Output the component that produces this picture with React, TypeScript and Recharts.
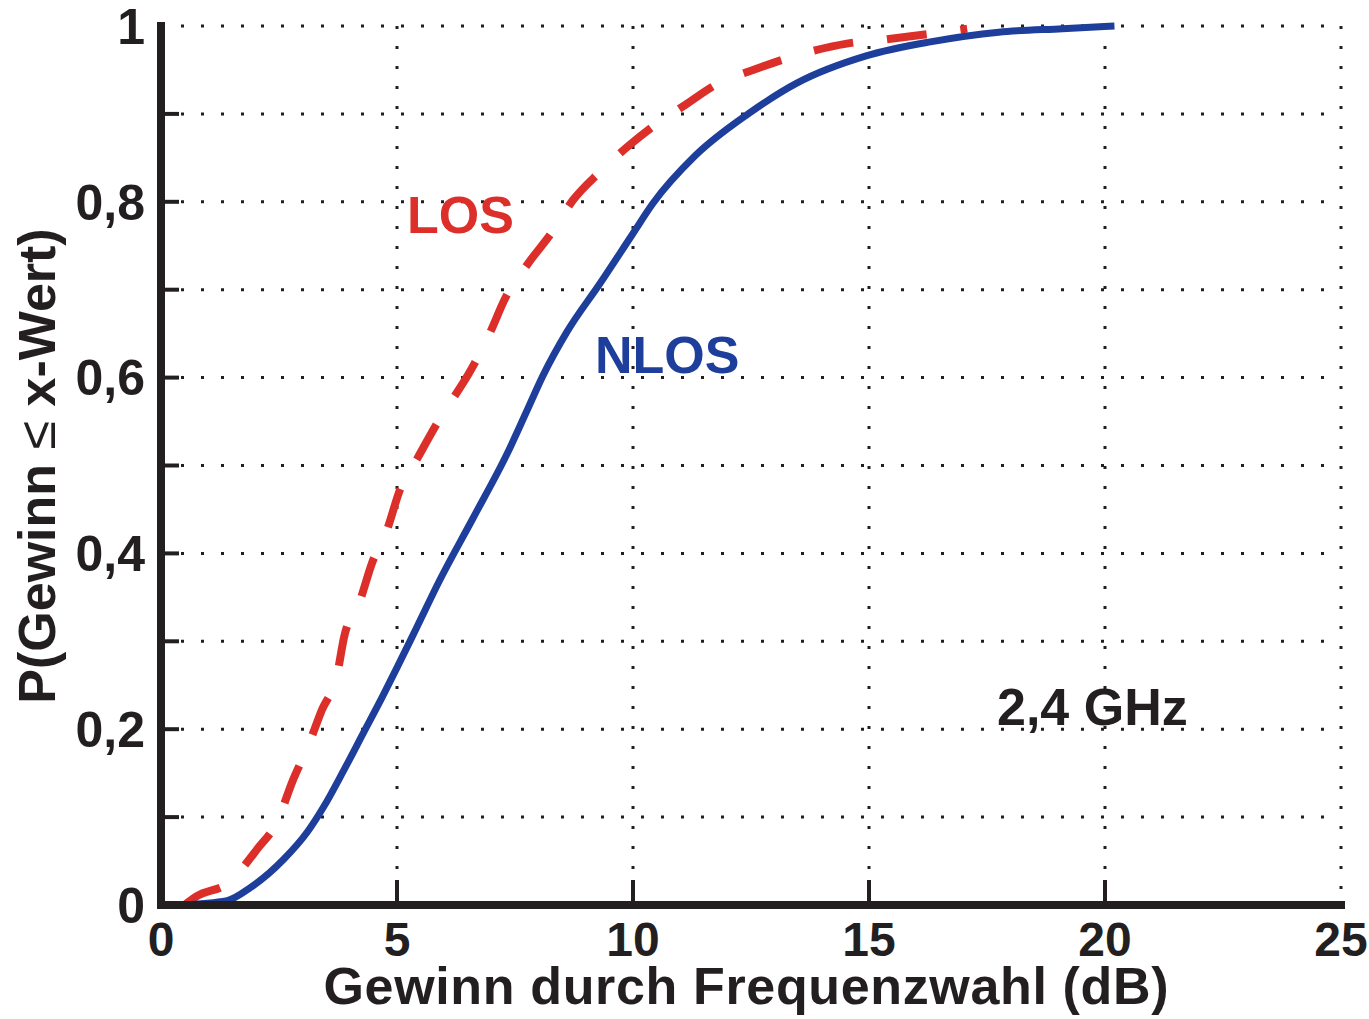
import { LineChart, Line, XAxis, YAxis, CartesianGrid } from 'recharts'

// NLOS — Gewinn (dB) und kumulierte Wahrscheinlichkeit
const nlosGain = [0.4, 1.4, 1.9, 2.6, 3.1, 3.45, 3.86, 4.28, 4.7, 5.0, 5.42, 5.91, 6.61, 7.33, 7.75, 8.09, 8.6, 9.3, 10.0, 10.42, 11.31, 12.44, 13.47, 14.94, 16.3, 17.75, 19.1, 20.2]
const nlosProb = [0, 0.005, 0.02, 0.052, 0.083, 0.112, 0.152, 0.195, 0.238, 0.27, 0.316, 0.37, 0.44, 0.513, 0.562, 0.602, 0.652, 0.707, 0.764, 0.798, 0.852, 0.9, 0.935, 0.966, 0.982, 0.993, 0.997, 1.0]

// LOS
const losGain = [0.5, 0.76, 1.42, 2.03, 2.48, 2.78, 3.11, 3.41, 3.73, 3.88, 4.22, 4.47, 4.79, 5.06, 5.44, 5.87, 6.59, 6.97, 7.29, 7.78, 8.28, 8.73, 9.3, 9.87, 10.38, 11.1, 11.78, 12.6, 13.69, 14.53, 15.38, 16.27, 17.08]
const losProb = [0, 0.01, 0.025, 0.063, 0.097, 0.14, 0.18, 0.222, 0.262, 0.305, 0.347, 0.389, 0.427, 0.472, 0.509, 0.55, 0.611, 0.651, 0.69, 0.73, 0.765, 0.802, 0.834, 0.862, 0.884, 0.91, 0.934, 0.951, 0.97, 0.98, 0.985, 0.991, 0.997]

const xTicks = [0, 5, 10, 15, 20, 25]
const yTicks = [0, 0.1, 0.2, 0.3, 0.4, 0.5, 0.6, 0.7, 0.8, 0.9, 1]
const yLabels = ['0', '', '0,2', '', '0,4', '', '0,6', '', '0,8', '', '1']

const nlosData = nlosGain.map((x, i) => ({ x, p: nlosProb[i] }))
const losData = losGain.map((x, i) => ({ x, p: losProb[i] }))

const FONT = "'Liberation Sans', Arial, sans-serif"
const INK = '#231f20'
const BLUE = '#1e3e9b'
const RED = '#dd2f2a'

// Tick unten: Beschriftung + kurzer Strich nach innen
function XTick({ x, y, payload }: any) {
  const v = payload.value
  const inner = v !== 0 && v !== 25
  return (
    <g>
      {inner && <line x1={x} y1={y - 17} x2={x} y2={y - 17 - 25} stroke={INK} strokeWidth={4} />}
      <text x={x} y={y} dy="0.71em" textAnchor="middle" fontFamily={FONT} fontWeight="bold" fontSize={48} fill={INK}>
        {v}
      </text>
    </g>
  )
}

// Tick links: alle 0,1 ein Strich, Beschriftung nur alle 0,2
function YTick({ x, y, index }: any) {
  const label = yLabels[index]
  const inner = index !== 0 && index !== yTicks.length - 1
  return (
    <g>
      {inner && <line x1={x + 16} y1={y} x2={x + 16 + 18} y2={y} stroke={INK} strokeWidth={4} />}
      {label && (
        <text x={x} y={y} dy="0.355em" textAnchor="end" fontFamily={FONT} fontWeight="bold" fontSize={50} fill={INK}>
          {label}
        </text>
      )}
    </g>
  )
}

const frame = { stroke: INK, strokeWidth: 8, strokeLinecap: 'square' as const }

export default function App() {
  return (
    <div style={{ position: 'absolute', left: 0, top: 0, width: 1369, height: 1019, background: '#fff' }}>
      <LineChart width={1369} height={1019} margin={{ top: 26, right: 28, left: 61, bottom: 54 }}>
        <CartesianGrid stroke={INK} strokeWidth={3} strokeDasharray="3 17" />
        <XAxis
          type="number"
          dataKey="x"
          domain={[0, 25]}
          ticks={xTicks}
          height={60}
          tickSize={0}
          tickMargin={17}
          tickLine={false}
          axisLine={frame}
          tick={<XTick />}
          interval={0}
        />
        <XAxis xAxisId="top" orientation="top" type="number" domain={[0, 25]} height={0} tick={false} tickLine={false} axisLine={frame} />
        <YAxis
          type="number"
          domain={[0, 1]}
          ticks={yTicks}
          width={100}
          tickSize={0}
          tickMargin={16}
          tickLine={false}
          axisLine={frame}
          tick={<YTick />}
          interval={0}
        />
        <YAxis yAxisId="right" orientation="right" type="number" domain={[0, 1]} width={0} tick={false} tickLine={false} axisLine={frame} />
        <Line
          data={losData}
          dataKey="p"
          type="monotone"
          stroke={RED}
          strokeWidth={8}
          strokeDasharray="40 34"
          dot={false}
          isAnimationActive={false}
        />
        <Line
          data={nlosData}
          dataKey="p"
          type="monotone"
          stroke={BLUE}
          strokeWidth={7}
          dot={false}
          isAnimationActive={false}
        />
      </LineChart>
      <svg width={1369} height={1019} style={{ position: 'absolute', left: 0, top: 0, pointerEvents: 'none' }}>
        <g fontFamily={FONT} fontWeight="bold" fontSize={52}>
          <text x={407} y={233} fill={RED}>LOS</text>
          <text x={595} y={373} fill={BLUE}>NLOS</text>
          <text x={997} y={725} fill={INK}>2,4 GHz</text>
          <text x={746} y={1004} textAnchor="middle" fill={INK} textLength={845} lengthAdjust="spacing">
            Gewinn durch Frequenzwahl (dB)
          </text>
          <text x={55} y={466} textAnchor="middle" fill={INK} transform="rotate(-90 55 466)">
            P(Gewinn <tspan fontWeight="normal">≤</tspan> x-Wert)
          </text>
        </g>
      </svg>
    </div>
  )
}
